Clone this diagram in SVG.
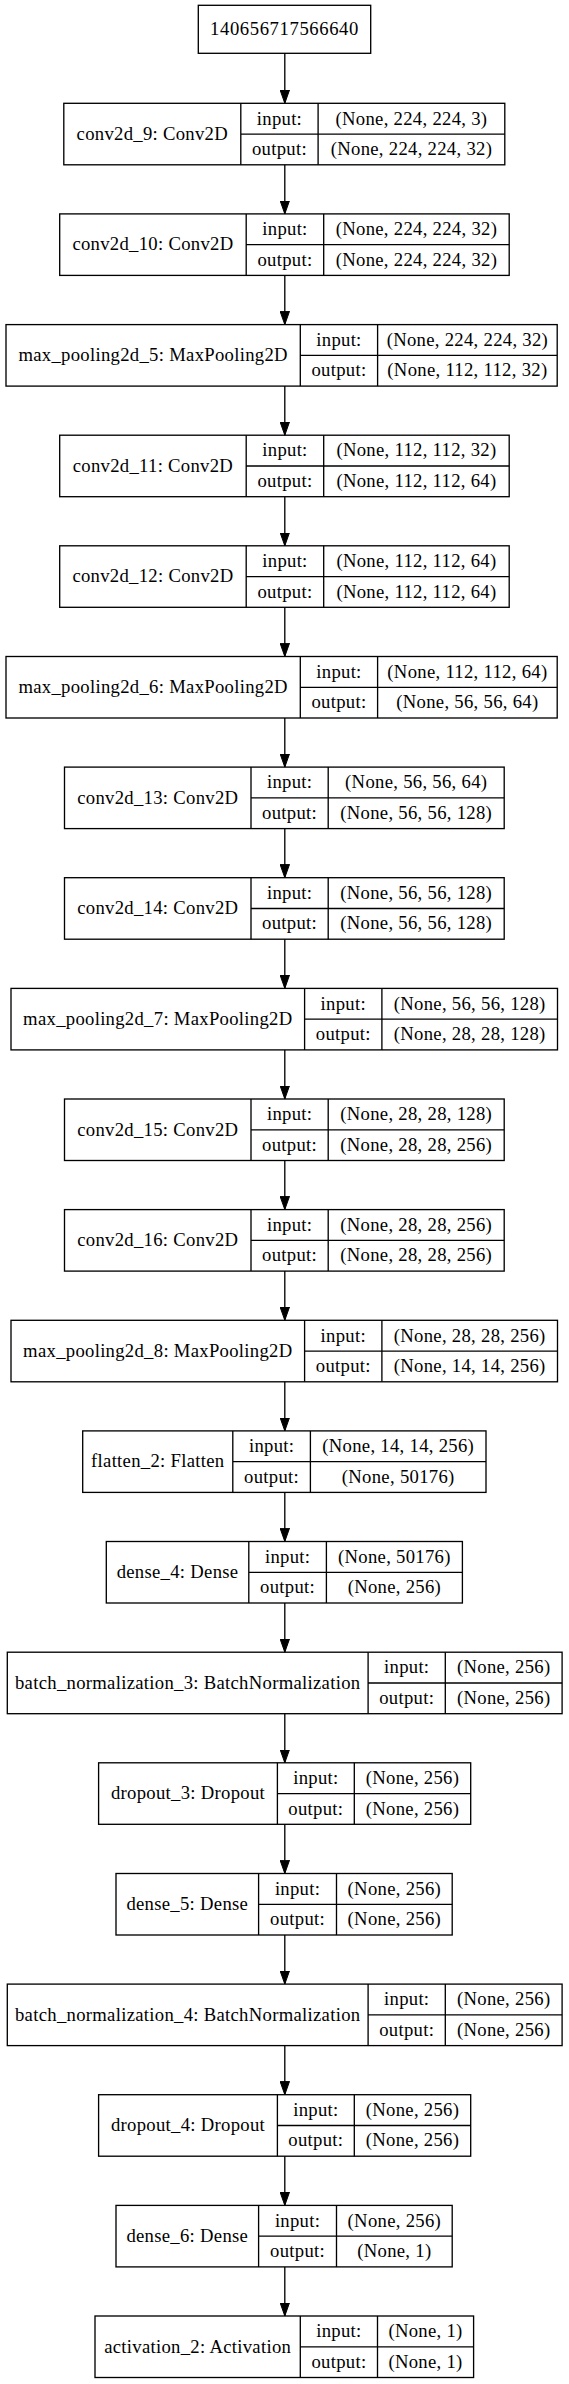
<svg xmlns="http://www.w3.org/2000/svg" width="569" height="2384" viewBox="0 0 569 2384">
<style>
.b{fill:none;stroke:#000;stroke-width:1.33}
.e{fill:none;stroke:#000;stroke-width:1.33}
text{font-family:"Liberation Serif","Times New Roman",serif;font-size:18.67px;text-anchor:middle;fill:#000;letter-spacing:0.3px}
text.t{letter-spacing:0.6px}
</style>
<defs>
<marker id="arr" markerUnits="userSpaceOnUse" markerWidth="14" markerHeight="10" refX="13.3" refY="4.7" orient="auto"><path d="M0,0 L13.3,4.7 L0,9.4 z" fill="#000" stroke="#000" stroke-width="1"/></marker>
</defs>
<rect width="569" height="2384" fill="#fff"/>
<g id="connectors">
<path class="e" d="M284.8,53.3 V103.3" marker-end="url(#arr)"/>
<path class="e" d="M284.8,164.8 V213.9" marker-end="url(#arr)"/>
<path class="e" d="M284.8,275.4 V324.6" marker-end="url(#arr)"/>
<path class="e" d="M284.8,386.1 V435.2" marker-end="url(#arr)"/>
<path class="e" d="M284.8,496.7 V545.8" marker-end="url(#arr)"/>
<path class="e" d="M284.8,607.3 V656.5" marker-end="url(#arr)"/>
<path class="e" d="M284.8,718 V767.1" marker-end="url(#arr)"/>
<path class="e" d="M284.8,828.6 V877.7" marker-end="url(#arr)"/>
<path class="e" d="M284.8,939.2 V988.4" marker-end="url(#arr)"/>
<path class="e" d="M284.8,1049.9 V1099" marker-end="url(#arr)"/>
<path class="e" d="M284.8,1160.5 V1209.6" marker-end="url(#arr)"/>
<path class="e" d="M284.8,1271.1 V1320.3" marker-end="url(#arr)"/>
<path class="e" d="M284.8,1381.8 V1430.9" marker-end="url(#arr)"/>
<path class="e" d="M284.8,1492.4 V1541.5" marker-end="url(#arr)"/>
<path class="e" d="M284.8,1603 V1652.2" marker-end="url(#arr)"/>
<path class="e" d="M284.8,1713.7 V1762.8" marker-end="url(#arr)"/>
<path class="e" d="M284.8,1824.3 V1873.5" marker-end="url(#arr)"/>
<path class="e" d="M284.8,1935 V1984.1" marker-end="url(#arr)"/>
<path class="e" d="M284.8,2045.6 V2094.7" marker-end="url(#arr)"/>
<path class="e" d="M284.8,2156.2 V2205.4" marker-end="url(#arr)"/>
<path class="e" d="M284.8,2266.9 V2316" marker-end="url(#arr)"/>
</g>
<g id="input_node">
<rect class="b" x="198.3" y="5.3" width="172.4" height="48"/>
<text class="t" x="284.5" y="35">140656717566640</text>
</g>
<g id="conv2d_9" transform="translate(0,103.3)">
<rect class="b" x="63.8" y="0" width="441" height="61.5"/>
<path class="b" d="M240.8,0 V61.5 M318.1,0 V61.5 M240.8,30.8 H504.8"/>
<text x="152.3" y="36.5">conv2d_9: Conv2D</text>
<text x="279.45" y="21.3">input:</text>
<text x="279.45" y="51.8">output:</text>
<text x="411.45" y="21.3">(None, 224, 224, 3)</text>
<text x="411.45" y="51.8">(None, 224, 224, 32)</text>
</g>
<g id="conv2d_10" transform="translate(0,213.9)">
<rect class="b" x="59.7" y="0" width="449.5" height="61.5"/>
<path class="b" d="M246.2,0 V61.5 M323.7,0 V61.5 M246.2,30.8 H509.2"/>
<text x="152.95" y="36.5">conv2d_10: Conv2D</text>
<text x="284.95" y="21.3">input:</text>
<text x="284.95" y="51.8">output:</text>
<text x="416.45" y="21.3">(None, 224, 224, 32)</text>
<text x="416.45" y="51.8">(None, 224, 224, 32)</text>
</g>
<g id="max_pooling2d_5" transform="translate(0,324.6)">
<rect class="b" x="6" y="0" width="551.2" height="61.5"/>
<path class="b" d="M300.3,0 V61.5 M377.6,0 V61.5 M300.3,30.8 H557.2"/>
<text x="153.15" y="36.5">max_pooling2d_5: MaxPooling2D</text>
<text x="338.95" y="21.3">input:</text>
<text x="338.95" y="51.8">output:</text>
<text x="467.4" y="21.3">(None, 224, 224, 32)</text>
<text x="467.4" y="51.8">(None, 112, 112, 32)</text>
</g>
<g id="conv2d_11" transform="translate(0,435.2)">
<rect class="b" x="59.7" y="0" width="449.5" height="61.5"/>
<path class="b" d="M246.2,0 V61.5 M323.7,0 V61.5 M246.2,30.8 H509.2"/>
<text x="152.95" y="36.5">conv2d_11: Conv2D</text>
<text x="284.95" y="21.3">input:</text>
<text x="284.95" y="51.8">output:</text>
<text x="416.45" y="21.3">(None, 112, 112, 32)</text>
<text x="416.45" y="51.8">(None, 112, 112, 64)</text>
</g>
<g id="conv2d_12" transform="translate(0,545.8)">
<rect class="b" x="59.7" y="0" width="449.5" height="61.5"/>
<path class="b" d="M246.2,0 V61.5 M323.7,0 V61.5 M246.2,30.8 H509.2"/>
<text x="152.95" y="36.5">conv2d_12: Conv2D</text>
<text x="284.95" y="21.3">input:</text>
<text x="284.95" y="51.8">output:</text>
<text x="416.45" y="21.3">(None, 112, 112, 64)</text>
<text x="416.45" y="51.8">(None, 112, 112, 64)</text>
</g>
<g id="max_pooling2d_6" transform="translate(0,656.5)">
<rect class="b" x="6" y="0" width="551.2" height="61.5"/>
<path class="b" d="M300.3,0 V61.5 M377.6,0 V61.5 M300.3,30.8 H557.2"/>
<text x="153.15" y="36.5">max_pooling2d_6: MaxPooling2D</text>
<text x="338.95" y="21.3">input:</text>
<text x="338.95" y="51.8">output:</text>
<text x="467.4" y="21.3">(None, 112, 112, 64)</text>
<text x="467.4" y="51.8">(None, 56, 56, 64)</text>
</g>
<g id="conv2d_13" transform="translate(0,767.1)">
<rect class="b" x="64.5" y="0" width="439.7" height="61.5"/>
<path class="b" d="M251,0 V61.5 M328.2,0 V61.5 M251,30.8 H504.2"/>
<text x="157.75" y="36.5">conv2d_13: Conv2D</text>
<text x="289.6" y="21.3">input:</text>
<text x="289.6" y="51.8">output:</text>
<text x="416.2" y="21.3">(None, 56, 56, 64)</text>
<text x="416.2" y="51.8">(None, 56, 56, 128)</text>
</g>
<g id="conv2d_14" transform="translate(0,877.7)">
<rect class="b" x="64.5" y="0" width="439.7" height="61.5"/>
<path class="b" d="M251,0 V61.5 M328.2,0 V61.5 M251,30.8 H504.2"/>
<text x="157.75" y="36.5">conv2d_14: Conv2D</text>
<text x="289.6" y="21.3">input:</text>
<text x="289.6" y="51.8">output:</text>
<text x="416.2" y="21.3">(None, 56, 56, 128)</text>
<text x="416.2" y="51.8">(None, 56, 56, 128)</text>
</g>
<g id="max_pooling2d_7" transform="translate(0,988.4)">
<rect class="b" x="11" y="0" width="546.5" height="61.5"/>
<path class="b" d="M304.6,0 V61.5 M381.9,0 V61.5 M304.6,30.8 H557.5"/>
<text x="157.8" y="36.5">max_pooling2d_7: MaxPooling2D</text>
<text x="343.25" y="21.3">input:</text>
<text x="343.25" y="51.8">output:</text>
<text x="469.7" y="21.3">(None, 56, 56, 128)</text>
<text x="469.7" y="51.8">(None, 28, 28, 128)</text>
</g>
<g id="conv2d_15" transform="translate(0,1099)">
<rect class="b" x="64.5" y="0" width="439.7" height="61.5"/>
<path class="b" d="M251,0 V61.5 M328.2,0 V61.5 M251,30.8 H504.2"/>
<text x="157.75" y="36.5">conv2d_15: Conv2D</text>
<text x="289.6" y="21.3">input:</text>
<text x="289.6" y="51.8">output:</text>
<text x="416.2" y="21.3">(None, 28, 28, 128)</text>
<text x="416.2" y="51.8">(None, 28, 28, 256)</text>
</g>
<g id="conv2d_16" transform="translate(0,1209.6)">
<rect class="b" x="64.5" y="0" width="439.7" height="61.5"/>
<path class="b" d="M251,0 V61.5 M328.2,0 V61.5 M251,30.8 H504.2"/>
<text x="157.75" y="36.5">conv2d_16: Conv2D</text>
<text x="289.6" y="21.3">input:</text>
<text x="289.6" y="51.8">output:</text>
<text x="416.2" y="21.3">(None, 28, 28, 256)</text>
<text x="416.2" y="51.8">(None, 28, 28, 256)</text>
</g>
<g id="max_pooling2d_8" transform="translate(0,1320.3)">
<rect class="b" x="11" y="0" width="546.5" height="61.5"/>
<path class="b" d="M304.6,0 V61.5 M381.9,0 V61.5 M304.6,30.8 H557.5"/>
<text x="157.8" y="36.5">max_pooling2d_8: MaxPooling2D</text>
<text x="343.25" y="21.3">input:</text>
<text x="343.25" y="51.8">output:</text>
<text x="469.7" y="21.3">(None, 28, 28, 256)</text>
<text x="469.7" y="51.8">(None, 14, 14, 256)</text>
</g>
<g id="flatten_2" transform="translate(0,1430.9)">
<rect class="b" x="82.7" y="0" width="403.3" height="61.5"/>
<path class="b" d="M232.8,0 V61.5 M310.4,0 V61.5 M232.8,30.8 H486"/>
<text x="157.75" y="36.5">flatten_2: Flatten</text>
<text x="271.6" y="21.3">input:</text>
<text x="271.6" y="51.8">output:</text>
<text x="398.2" y="21.3">(None, 14, 14, 256)</text>
<text x="398.2" y="51.8">(None, 50176)</text>
</g>
<g id="dense_4" transform="translate(0,1541.5)">
<rect class="b" x="106.3" y="0" width="356.1" height="61.5"/>
<path class="b" d="M248.8,0 V61.5 M326.4,0 V61.5 M248.8,30.8 H462.4"/>
<text x="177.55" y="36.5">dense_4: Dense</text>
<text x="287.6" y="21.3">input:</text>
<text x="287.6" y="51.8">output:</text>
<text x="394.4" y="21.3">(None, 50176)</text>
<text x="394.4" y="51.8">(None, 256)</text>
</g>
<g id="batch_normalization_3" transform="translate(0,1652.2)">
<rect class="b" x="7.3" y="0" width="554.8" height="61.5"/>
<path class="b" d="M368.1,0 V61.5 M445.3,0 V61.5 M368.1,30.8 H562.1"/>
<text x="187.7" y="36.5">batch_normalization_3: BatchNormalization</text>
<text x="406.7" y="21.3">input:</text>
<text x="406.7" y="51.8">output:</text>
<text x="503.7" y="21.3">(None, 256)</text>
<text x="503.7" y="51.8">(None, 256)</text>
</g>
<g id="dropout_3" transform="translate(0,1762.8)">
<rect class="b" x="98.6" y="0" width="372.1" height="61.5"/>
<path class="b" d="M277.4,0 V61.5 M354.3,0 V61.5 M277.4,30.8 H470.7"/>
<text x="188" y="36.5">dropout_3: Dropout</text>
<text x="315.85" y="21.3">input:</text>
<text x="315.85" y="51.8">output:</text>
<text x="412.5" y="21.3">(None, 256)</text>
<text x="412.5" y="51.8">(None, 256)</text>
</g>
<g id="dense_5" transform="translate(0,1873.5)">
<rect class="b" x="116" y="0" width="336.2" height="61.5"/>
<path class="b" d="M258.6,0 V61.5 M336.5,0 V61.5 M258.6,30.8 H452.2"/>
<text x="187.3" y="36.5">dense_5: Dense</text>
<text x="297.55" y="21.3">input:</text>
<text x="297.55" y="51.8">output:</text>
<text x="394.35" y="21.3">(None, 256)</text>
<text x="394.35" y="51.8">(None, 256)</text>
</g>
<g id="batch_normalization_4" transform="translate(0,1984.1)">
<rect class="b" x="7.3" y="0" width="554.8" height="61.5"/>
<path class="b" d="M368.1,0 V61.5 M445.3,0 V61.5 M368.1,30.8 H562.1"/>
<text x="187.7" y="36.5">batch_normalization_4: BatchNormalization</text>
<text x="406.7" y="21.3">input:</text>
<text x="406.7" y="51.8">output:</text>
<text x="503.7" y="21.3">(None, 256)</text>
<text x="503.7" y="51.8">(None, 256)</text>
</g>
<g id="dropout_4" transform="translate(0,2094.7)">
<rect class="b" x="98.6" y="0" width="372.1" height="61.5"/>
<path class="b" d="M277.4,0 V61.5 M354.3,0 V61.5 M277.4,30.8 H470.7"/>
<text x="188" y="36.5">dropout_4: Dropout</text>
<text x="315.85" y="21.3">input:</text>
<text x="315.85" y="51.8">output:</text>
<text x="412.5" y="21.3">(None, 256)</text>
<text x="412.5" y="51.8">(None, 256)</text>
</g>
<g id="dense_6" transform="translate(0,2205.4)">
<rect class="b" x="116" y="0" width="336.2" height="61.5"/>
<path class="b" d="M258.6,0 V61.5 M336.5,0 V61.5 M258.6,30.8 H452.2"/>
<text x="187.3" y="36.5">dense_6: Dense</text>
<text x="297.55" y="21.3">input:</text>
<text x="297.55" y="51.8">output:</text>
<text x="394.35" y="21.3">(None, 256)</text>
<text x="394.35" y="51.8">(None, 1)</text>
</g>
<g id="activation_2" transform="translate(0,2316)">
<rect class="b" x="95" y="0" width="378.6" height="61.5"/>
<path class="b" d="M300.3,0 V61.5 M377.5,0 V61.5 M300.3,30.8 H473.6"/>
<text x="197.65" y="36.5">activation_2: Activation</text>
<text x="338.9" y="21.3">input:</text>
<text x="338.9" y="51.8">output:</text>
<text x="425.55" y="21.3">(None, 1)</text>
<text x="425.55" y="51.8">(None, 1)</text>
</g>
</svg>
